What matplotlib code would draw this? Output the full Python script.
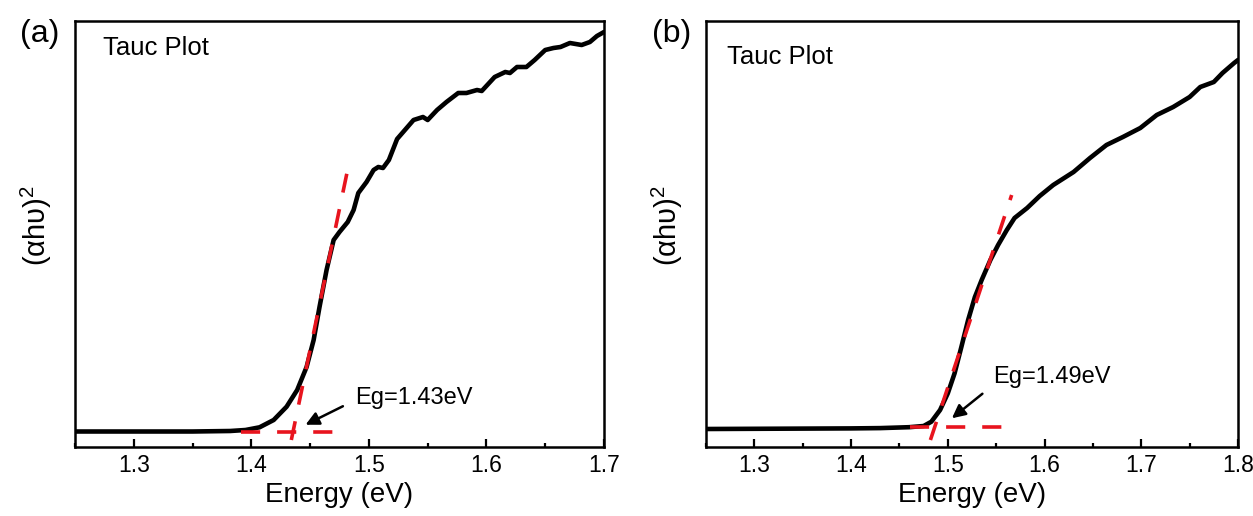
import matplotlib
matplotlib.use("Agg")
import matplotlib.pyplot as plt
from matplotlib.ticker import MultipleLocator

plt.rcParams['font.family'] = ['Liberation Sans', 'DejaVu Sans']
plt.rcParams['mathtext.fontset'] = 'custom'
plt.rcParams['mathtext.rm'] = 'Liberation Sans'

# ---- data (a) ----
energy_a = [1.25, 1.30, 1.35, 1.382, 1.395, 1.407, 1.419, 1.430, 1.439, 1.447, 1.453, 1.458,
            1.464, 1.470, 1.475, 1.482, 1.487, 1.491, 1.498, 1.504, 1.508, 1.512, 1.517,
            1.524, 1.538, 1.546, 1.550, 1.558, 1.566, 1.576, 1.583, 1.592, 1.596, 1.607,
            1.616, 1.620, 1.626, 1.634, 1.641, 1.650, 1.657, 1.663, 1.671, 1.681, 1.688,
            1.694, 1.700]
tauc_a = [15.5, 15.5, 15.5, 16, 17, 19.7, 27, 40.3, 57, 80, 107, 140,
          177, 207, 215, 225, 237, 254, 265, 277, 280, 279, 287,
          308, 327, 330, 327, 337, 345, 354, 354, 357, 356, 370,
          375, 374, 380, 380, 387, 397, 399, 400, 404, 402, 405,
          411, 415]
fit_a_x = [1.434, 1.484]
fit_a_y = [7, 289]
base_a_x = [1.391, 1.474]
base_a_y = [15, 15]
eg_a = "Eg=1.43eV"

# ---- data (b) ----
energy_b = [1.25, 1.30, 1.35, 1.40, 1.430, 1.460, 1.475, 1.483, 1.492, 1.500, 1.507, 1.514,
            1.521, 1.528, 1.535, 1.544, 1.552, 1.561, 1.569, 1.582, 1.595, 1.609, 1.630,
            1.647, 1.664, 1.681, 1.699, 1.716, 1.733, 1.750, 1.761, 1.775, 1.784, 1.796,
            1.800]
tauc_b = [18.0, 18.2, 18.4, 18.6, 18.9, 19.8, 21, 25.3, 37, 53.7, 73.7, 100,
          127, 150, 167, 187, 202, 217, 229, 239, 251, 262, 275,
          289, 302, 310, 319, 332, 340, 350, 360, 365, 374, 384,
          387]
fit_b_x = [1.482, 1.566]
fit_b_y = [7, 252]
base_b_x = [1.461, 1.564]
base_b_y = [20.3, 20.3]
eg_b = "Eg=1.49eV"

W, H = 1253, 516
fig = plt.figure(figsize=(W / 100, H / 100), dpi=100)

RED = '#e8141e'
panels = [
    dict(rect=[75 / W, 69 / H, 529 / W, 426 / H], x=energy_a, y=tauc_a, fx=fit_a_x, fy=fit_a_y,
         bx=base_a_x, by=base_a_y, xlim=(1.25, 1.7), label='(a)', eg=eg_a, lab_x=-0.066,
         txt=(1.488, 49), arr_from=(1.480, 42), arr_to=(1.444, 21), tauc_pos=(0.053, 0.936)),
    dict(rect=[706 / W, 69 / H, 532 / W, 426 / H], x=energy_b, y=tauc_b, fx=fit_b_x, fy=fit_b_y,
         bx=base_b_x, by=base_b_y, xlim=(1.25, 1.8), label='(b)', eg=eg_b, lab_x=-0.064,
         txt=(1.547, 70), arr_from=(1.538, 55), arr_to=(1.502, 27), tauc_pos=(0.039, 0.915)),
]

for p in panels:
    ax = fig.add_axes(p['rect'])
    ax.plot(p['x'], p['y'], color='black', lw=3.3, solid_joinstyle='round',
            solid_capstyle='round', zorder=2)
    ax.plot(p['fx'], p['fy'], color=RED, lw=2.6, dashes=(5.3, 4.7), zorder=3)
    ax.plot(p['bx'], p['by'], color=RED, lw=2.6, dashes=(5.3, 4.7), zorder=3)
    ax.set_xlim(*p['xlim'])
    ax.set_ylim(0, 426)
    ax.xaxis.set_major_locator(MultipleLocator(0.1))
    ax.xaxis.set_minor_locator(MultipleLocator(0.05))
    ax.tick_params(axis='x', which='both', direction='in', labelsize=16.5, pad=5, width=1.6)
    ax.tick_params(axis='x', which='major', length=6)
    ax.tick_params(axis='x', which='minor', length=3)
    ax.set_yticks([])
    for s in ax.spines.values():
        s.set_linewidth(1.8)
    ax.set_xlabel('Energy (eV)', fontsize=20, labelpad=4)
    ax.set_ylabel('(αhυ)$^2$', fontsize=21)
    ax.yaxis.set_label_coords(-0.040, 0.52)
    ax.text(*p['tauc_pos'], 'Tauc Plot', transform=ax.transAxes, fontsize=18.5, va='center', ha='left')
    ax.text(p['lab_x'], 0.969, p['label'], transform=ax.transAxes, fontsize=23, va='center', ha='center')
    ax.annotate('', xy=p['arr_to'], xytext=p['arr_from'],
                arrowprops=dict(arrowstyle='-|>', color='black', lw=1.8, mutation_scale=20))
    ax.text(*p['txt'], p['eg'], fontsize=17, va='center', ha='left')

fig.savefig('out.png', dpi=100)
